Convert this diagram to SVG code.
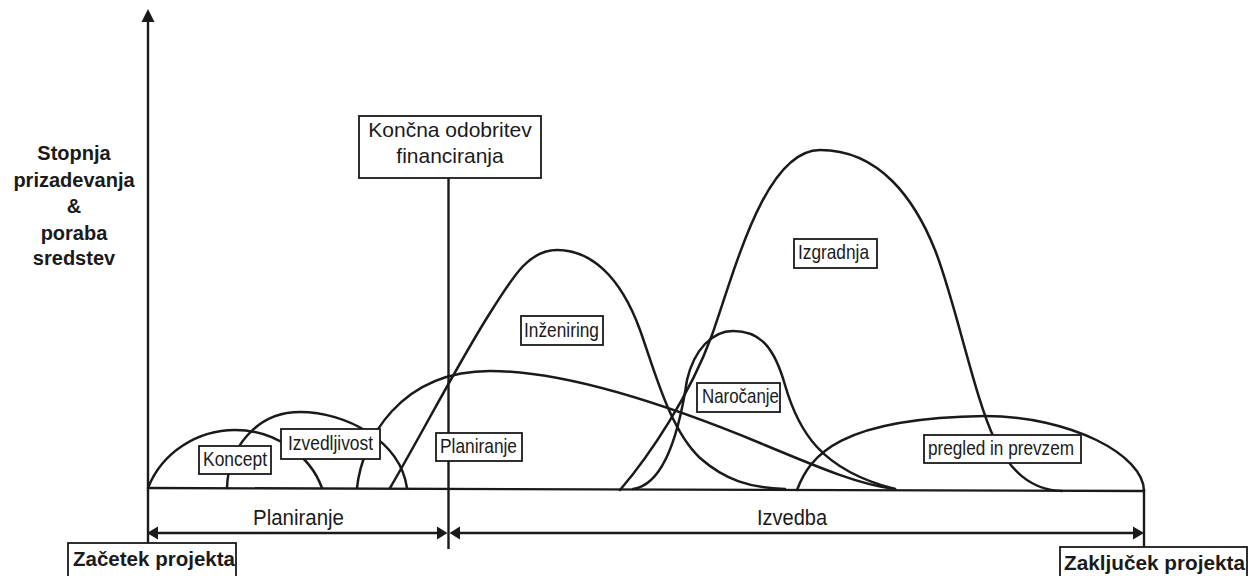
<svg xmlns="http://www.w3.org/2000/svg" width="1252" height="576" viewBox="0 0 1252 576">
<style>
.ln{fill:none;stroke:#1a1a1a;stroke-width:2.5;stroke-linecap:round;stroke-linejoin:round}
.ax{fill:none;stroke:#1a1a1a;stroke-width:2.4}
.box{fill:#fff;stroke:#1a1a1a;stroke-width:1.8}
.ah{fill:#1a1a1a;stroke:none}
.lbl{font-family:"Liberation Sans Narrow","Liberation Sans",Arial,sans-serif;font-size:21px;fill:#1a1a1a}
.big{font-family:"Liberation Sans Narrow","Liberation Sans",Arial,sans-serif;font-size:22px;fill:#1a1a1a}
.reg{font-family:"Liberation Sans",Arial,sans-serif;font-size:21px;fill:#1a1a1a}
.bold{font-family:"Liberation Sans",Arial,sans-serif;font-weight:bold;fill:#1a1a1a}
</style>
<rect width="1252" height="576" fill="#fff"/>

<g id="axes">
  <line class="ax" x1="148" y1="20" x2="148" y2="543"/>
  <polygon class="ah" points="148,9 141.5,22 154.5,22"/>
  <line class="ax" x1="148" y1="488" x2="1144" y2="491"/>
  <line class="ax" x1="1144" y1="489" x2="1144" y2="547"/>
</g>

<g id="y-label" class="bold" font-size="20" text-anchor="middle">
  <text x="74" y="160">Stopnja</text>
  <text x="74" y="187">prizadevanja</text>
  <text x="74" y="213">&amp;</text>
  <text x="74" y="240">poraba</text>
  <text x="74" y="265">sredstev</text>
</g>

<g id="curves">
  <path id="c-koncept" class="ln" d="M148,488 C162,452 198,430 235,430 C275,430 310,455 322,488"/>
  <path id="c-izvedljivost" class="ln" d="M227,488 C228,450 255,412 300,412 C345,412 400,440 407,488"/>
  <path id="c-planiranje" class="ln" d="M357,488 C362,440 400,371 490,371 C570,371 680,410 760,443 C820,468 860,485 895,489"/>
  <path id="c-inzeniring" class="ln" d="M390,488 C420,437 460,360 490,313 C515,273 530,250 557,250 C590,250 620,275 640,330 C655,372 670,430 700,458 C725,480 750,488 785,489"/>
  <path id="c-narocanje" class="ln" d="M633,489 C662,485 678,440 687,380 C694,350 712,331 733,331 C762,331 775,350 785,385 C798,430 820,470 895,489"/>
  <path id="c-izgradnja" class="ln" d="M620,490 C650,455 690,395 712,335 C735,270 765,150 820,150 C880,150 915,200 935,250 C955,300 975,400 995,440 C1010,470 1030,490 1062,491"/>
  <path id="c-pregled" class="ln" d="M797,490 C810,455 840,418 985,416 C1070,416 1144,455 1144,491"/>
</g>

<g id="connectors">
  <line class="ax" x1="448.5" y1="178" x2="448.5" y2="549"/>
  <line class="ax" x1="155" y1="533" x2="440" y2="533"/>
  <polygon class="ah" points="147,533 158,526.5 158,539.5"/>
  <polygon class="ah" points="447.5,533 437,526.5 437,539.5"/>
  <line class="ax" x1="458" y1="533" x2="1136" y2="533"/>
  <polygon class="ah" points="449.5,533 460,526.5 460,539.5"/>
  <polygon class="ah" points="1144,533 1133,526.5 1133,539.5"/>
</g>

<g id="node-koncna">
  <rect class="box" x="359" y="116" width="182" height="62"/>
  <text class="reg" x="450" y="137" text-anchor="middle">Končna odobritev</text>
  <text class="reg" x="450" y="163" text-anchor="middle">financiranja</text>
</g>

<g id="node-koncept">
  <rect class="box" x="199" y="446" width="72" height="28"/>
  <text class="lbl" x="203" y="466" textLength="64" lengthAdjust="spacingAndGlyphs">Koncept</text>
</g>
<g id="node-izvedljivost">
  <rect class="box" x="281" y="429" width="99" height="30"/>
  <text class="lbl" x="288" y="450" textLength="85" lengthAdjust="spacingAndGlyphs">Izvedljivost</text>
</g>
<g id="node-planiranje">
  <rect class="box" x="436" y="433" width="86" height="28"/>
  <text class="lbl" x="440" y="453" textLength="77" lengthAdjust="spacingAndGlyphs">Planiranje</text>
</g>
<g id="node-inzeniring">
  <rect class="box" x="521" y="316" width="82" height="29"/>
  <text class="lbl" x="524" y="337" textLength="75" lengthAdjust="spacingAndGlyphs">Inženiring</text>
</g>
<g id="node-narocanje">
  <rect class="box" x="697" y="383" width="83" height="29"/>
  <text class="lbl" x="702" y="403" textLength="77" lengthAdjust="spacingAndGlyphs">Naročanje</text>
</g>
<g id="node-izgradnja">
  <rect class="box" x="794" y="239" width="83" height="29"/>
  <text class="lbl" x="798" y="259" textLength="71" lengthAdjust="spacingAndGlyphs">Izgradnja</text>
</g>
<g id="node-pregled">
  <rect class="box" x="924" y="435" width="157" height="28"/>
  <text class="lbl" x="928" y="455" textLength="146" lengthAdjust="spacingAndGlyphs">pregled in prevzem</text>
</g>

<g id="phase-labels">
  <text class="big" x="253" y="525" textLength="91" lengthAdjust="spacingAndGlyphs">Planiranje</text>
  <text class="big" x="757" y="525" textLength="70" lengthAdjust="spacingAndGlyphs">Izvedba</text>
</g>

<g id="node-zacetek">
  <rect class="box" x="68" y="543" width="168" height="40"/>
  <text class="bold" font-size="21" x="73" y="566" textLength="162" lengthAdjust="spacingAndGlyphs">Začetek projekta</text>
</g>
<g id="node-zakljucek">
  <rect class="box" x="1060" y="547" width="187" height="40"/>
  <text class="bold" font-size="21" x="1064" y="570" textLength="181" lengthAdjust="spacingAndGlyphs">Zaključek projekta</text>
</g>
</svg>
